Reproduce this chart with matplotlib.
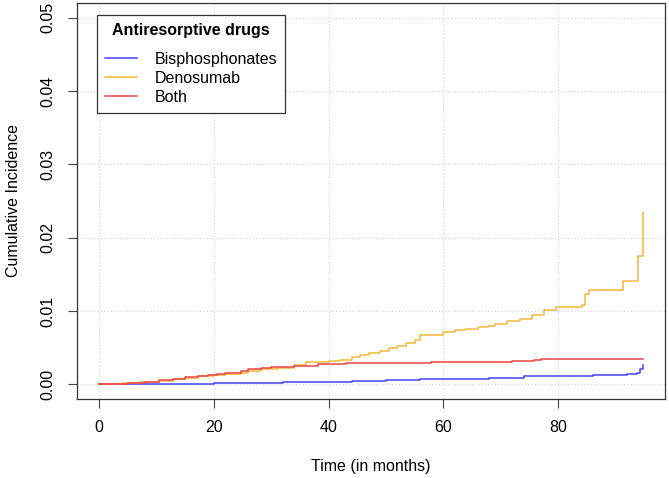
import numpy as np
import matplotlib
matplotlib.use("Agg")
import matplotlib.pyplot as plt

plt.rcParams['font.family'] = ['Liberation Sans', 'DejaVu Sans']

# cumulative incidence curves (months, value)
bis_t = [0, 8, 14, 20, 26, 32, 38, 44, 50, 56, 62, 68, 74, 80, 86, 92, 93.8, 94.3, 94.8]
bis_v = [0, 0.00005, 0.0001, 0.00015, 0.0002, 0.0003, 0.0004, 0.0005, 0.0006, 0.0007,
         0.0008, 0.0009, 0.0011, 0.0012, 0.0013, 0.0014, 0.0015, 0.0021, 0.0027]

deno_t = [0, 1.5, 4, 7, 10.4, 13, 15, 17.3, 20, 22, 24.8, 26, 28.3, 31, 34, 36, 38.2, 40,
          42, 44, 45.5, 47, 49, 50.5, 52, 53.5, 55, 56, 60, 62, 64, 66, 67.7, 69, 71,
          73.4, 75.5, 77.5, 79.6, 84.2, 84.6, 85.3, 91.3, 93.9, 94.8]
deno_v = [0, 0.0001, 0.0002, 0.0003, 0.0005, 0.0007, 0.0009, 0.0011, 0.0013, 0.0014,
          0.0016, 0.0019, 0.0021, 0.0023, 0.0027, 0.0030, 0.0031, 0.0032, 0.0034, 0.0037,
          0.0040, 0.0043, 0.0046, 0.0049, 0.0053, 0.0056, 0.0060, 0.0067, 0.0071, 0.0074,
          0.0076, 0.0078, 0.0080, 0.0083, 0.0086, 0.0089, 0.0094, 0.0101, 0.0105, 0.0108,
          0.0123, 0.0129, 0.0141, 0.0175, 0.0235]

both_t = [0, 2, 5, 8, 10.4, 13, 15, 17.3, 19, 20.5, 22, 24.8, 26, 28.3, 30, 34, 38.2,
          43, 50, 57.8, 62, 67.9, 72, 75.7, 77, 94.8]
both_v = [0, 0.0001, 0.0002, 0.0003, 0.0006, 0.0007, 0.0010, 0.0012, 0.0013, 0.0014,
          0.0015, 0.0018, 0.0021, 0.0023, 0.0024, 0.0025, 0.0028, 0.0029, 0.0029, 0.0030,
          0.0030, 0.0031, 0.0032, 0.0033, 0.0035, 0.0035]

labels = ["Bisphosphonates", "Denosumab", "Both"]
colors = ["#4444ff", "#f7b83a", "#f04444"]

fs = 11.5

fig = plt.figure(figsize=(6.69, 4.78), dpi=100)
ax = fig.add_axes([0.1151, 0.165, 0.879, 0.829])

for t, v, lab, c in zip([bis_t, deno_t, both_t], [bis_v, deno_v, both_v], labels, colors):
    ax.step(t, v, where="post", color=c, lw=1.1, label=lab)

ax.set_xlim(-3.8, 98.6)
ax.set_ylim(-0.002, 0.052)
ax.set_xticks([0, 20, 40, 60, 80])
ax.set_yticks([0, 0.01, 0.02, 0.03, 0.04, 0.05])
ax.set_yticklabels(["0.00", "0.01", "0.02", "0.03", "0.04", "0.05"], rotation=90, va="center")
ax.grid(True, color="#d8d8d8", linestyle=":", linewidth=0.9)
ax.set_axisbelow(True)
ax.tick_params(direction="out", length=6.8, width=0.8, labelsize=fs, color="#444444")
ax.tick_params(axis="x", pad=8.5)
ax.tick_params(axis="y", pad=8.5)
for s in ax.spines.values():
    s.set_linewidth(0.9)
    s.set_color("#333333")

ax.set_xlabel("Time (in months)", fontsize=fs, labelpad=17)
ax.set_ylabel("Cumulative Incidence", fontsize=fs, labelpad=14)

leg = ax.legend(loc="upper left", bbox_to_anchor=(0.034, 0.97), borderaxespad=0,
                title="Antiresorptive drugs", fontsize=fs, fancybox=False,
                edgecolor="#333333", framealpha=1, handlelength=2.0, handletextpad=1.1,
                labelspacing=0.26, borderpad=0.5)
leg.get_title().set_fontweight("bold")
leg.get_title().set_fontsize(fs)
leg.get_frame().set_linewidth(0.9)
# wider gap between legend title and entries
leg._legend_box.sep = 10

fig.savefig("out.png", dpi=100)
